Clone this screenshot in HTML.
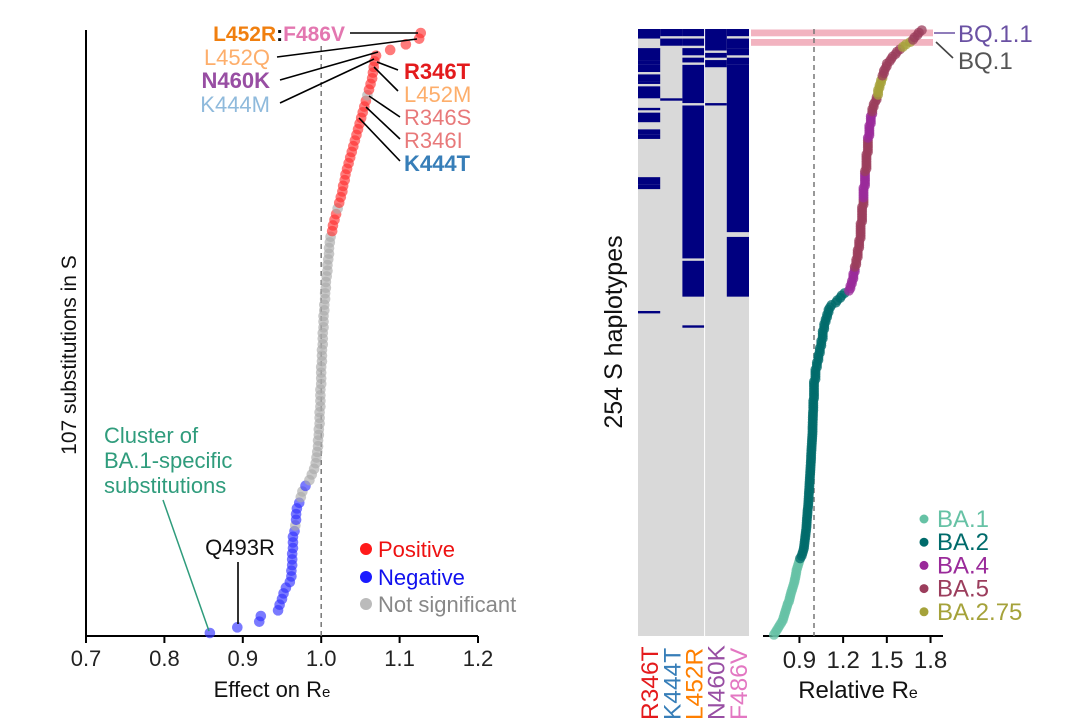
<!DOCTYPE html>
<html><head><meta charset="utf-8"><style>
html,body{margin:0;padding:0;background:#fff;}
svg{display:block;font-family:"Liberation Sans",Arial,sans-serif;}
</style></head><body>
<svg id="fig" width="1068" height="728" viewBox="0 0 1068 728" xmlns="http://www.w3.org/2000/svg">
<g id="left"></g>
<g id="right"></g>
</svg>
<script>
// ---------- LEFT PANEL DATA ----------
const effectValues = [0.858,0.893,0.921,0.923,0.945,0.947,0.950,0.952,0.955,0.960,0.962,0.962,0.963,0.963,0.963,0.964,0.964,0.964,0.966,0.967,0.968,0.968,0.969,0.972,0.974,0.976,0.980,
0.985,0.988,0.991,0.993,0.994,0.995,0.996,0.996,0.997,0.997,0.998,0.998,0.998,0.999,0.999,0.999,0.999,1.000,1.000,1.000,1.000,1.001,1.001,1.001,1.002,1.002,1.002,1.003,1.003,1.003,1.004,1.004,1.005,1.005,1.006,1.006,1.007,1.008,1.008,1.009,1.010,1.010,1.011,1.012,
1.014,1.015,1.017,1.019,1.021,1.023,1.025,1.027,1.028,1.030,1.031,1.033,1.035,1.037,1.039,1.041,1.043,1.045,1.047,1.049,1.051,1.053,1.055,1.057,1.059,1.061,1.063,1.065,1.066,1.067,1.068,1.070,1.088,1.108,1.125,1.127];
// significance: N negative, G not significant, P positive
const effectSignif = "NNNNNNNNNNNNNNNNNNNGNNNNGGN"+"GGGGGGGGGGGGGGGGGGGGGGGGGGGGGGGGGGGGGGGGGGGG"+"PPPPGPPPPPPPPPPPPPPPPPPPGPPPPPPPPPPP";
const leftTicks = [0.7,0.8,0.9,1.0,1.1,1.2];
const leftTickLabels = ["0.7","0.8","0.9","1.0","1.1","1.2"];

// ---------- RIGHT PANEL DATA ----------
const haploValues = [1.74,1.72,1.71,1.69,1.68,1.66,1.63,1.61,1.59,1.57,
1.56,1.54,1.53,1.52,1.50,1.50,1.49,1.48,1.48,1.47,
1.47,1.46,1.46,1.45,1.45,1.44,1.44,1.44,1.43,1.43,
1.42,1.41,1.41,1.40,1.40,1.40,1.39,1.39,1.39,1.39,
1.38,1.38,1.38,1.38,1.38,1.37,1.37,1.37,1.37,1.37,
1.37,1.37,1.36,1.36,1.36,1.36,1.36,1.36,1.36,1.35,
1.35,1.35,1.35,1.35,1.35,1.35,1.34,1.34,1.34,1.34,
1.34,1.34,1.34,1.34,1.33,1.33,1.33,1.33,1.33,1.33,
1.33,1.32,1.32,1.32,1.32,1.32,1.32,1.32,1.31,1.31,
1.31,1.31,1.30,1.30,1.30,1.30,1.29,1.29,1.29,1.28,
1.28,1.28,1.27,1.27,1.27,1.26,1.26,1.25,1.25,1.24,
1.21,1.19,1.18,1.16,1.15,1.12,1.11,1.10,1.10,1.09,
1.09,1.08,1.08,1.07,1.07,1.07,1.06,1.06,1.06,1.06,
1.05,1.05,1.05,1.04,1.04,1.04,1.03,1.03,1.03,1.02,
1.02,1.02,1.01,1.01,1.01,1.01,1.01,1.00,1.00,1.00,
1.00,1.00,1.00,1.00,1.00,0.995,0.995,0.995,0.995,0.995,
0.993,0.993,0.992,0.992,0.991,0.991,0.99,0.99,0.99,0.989,
0.988,0.987,0.986,0.985,0.984,0.983,0.982,0.981,0.98,0.98,
0.979,0.978,0.977,0.976,0.975,0.974,0.973,0.972,0.971,0.97,
0.969,0.968,0.967,0.966,0.965,0.964,0.963,0.962,0.961,0.96,
0.958,0.956,0.955,0.954,0.952,0.951,0.95,0.949,0.948,0.946,
0.944,0.942,0.94,0.938,0.936,0.934,0.932,0.93,0.925,0.92,
0.915,0.905,0.9,0.895,0.89,0.885,0.88,0.878,0.875,0.872,
0.868,0.865,0.86,0.855,0.85,0.845,0.84,0.836,0.832,0.828,
0.82,0.815,0.81,0.805,0.8,0.795,0.79,0.785,0.775,0.765,
0.755,0.745,0.735,0.725];
// lineage ranges [startRow, endRow, lineage]
const lineageRanges = [[0,4,"BA.5"],[5,7,"BA.2.75"],[8,19,"BA.5"],[20,27,"BA.2.75"],[28,34,"BA.5"],[35,45,"BA.4"],[46,59,"BA.5"],[60,70,"BA.4"],[71,99,"BA.5"],[100,109,"BA.4"],[110,221,"BA.2"],[222,253,"BA.1"]];
const lineageNames = ["BA.1","BA.2","BA.4","BA.5","BA.2.75"];
const lineageColors = {"BA.1":"#66c2a5","BA.2":"#006b6b","BA.4":"#9a2a9a","BA.5":"#9b3d5c","BA.2.75":"#a5a23a"};
const mutNames = ["R346T","K444T","L452R","N460K","F486V"];
const mutColors = ["#e41a1c","#377eb8","#ff7f00","#984ea3","#e377c2"];
// presence ranges per mutation column [startRow,endRow]
const mutR346T = [[0,3],[8,12],[13,14],[15,17],[19,21],[22,22],[24,28],[33,33],[35,38],[42,43],[44,45],[62,64],[65,66],[118,118]];
const mutK444T = [[0,2],[4,6],[29,29]];
const mutL452R = [[0,2],[4,6],[8,10],[12,13],[15,30],[32,95],[97,111],[124,124]];
const mutN460K = [[0,8],[10,11],[13,15],[31,31]];
const mutF486V = [[0,2],[4,7],[8,10],[12,14],[15,84],[87,111]];
const rightTicks = [0.9,1.2,1.5,1.8];
const rightTickLabels = ["0.9","1.2","1.5","1.8"];

const NS="http://www.w3.org/2000/svg";
function mk(parent,tag,attrs,text){const e=document.createElementNS(NS,tag);for(const k in attrs)e.setAttribute(k,attrs[k]);if(text!==undefined)e.textContent=text;parent.appendChild(e);return e;}

// ---------- LEFT PANEL ----------
const L=document.getElementById('left');
const lx=v=>86+(v-0.7)/0.5*392;
const ly=i=>633-i*(600/106);
let e;
e=mk(L,'line',{x1:86,y1:30,x2:86,y2:636,stroke:'#000','stroke-width':2});

e=mk(L,'line',{x1:86,y1:636,x2:478,y2:636,stroke:'#000','stroke-width':2});

e=mk(L,'line',{x1:lx(1.0),y1:46,x2:lx(1.0),y2:636,stroke:'#777','stroke-width':1.5,'stroke-dasharray':'5,4'});

leftTicks.forEach((t,k)=>{
  e=mk(L,'line',{x1:lx(t),y1:636,x2:lx(t),y2:643,stroke:'#000','stroke-width':2});
  
  e=mk(L,'text',{x:lx(t),y:666,'text-anchor':'middle','font-size':22,fill:'#222'},leftTickLabels[k]);
  
});
e=mk(L,'text',{x:272,y:697,'text-anchor':'middle','font-size':22,fill:'#111'});
e.innerHTML='Effect on R<tspan font-size="15">e</tspan>';

e=mk(L,'text',{x:0,y:0,transform:'translate(76,355) rotate(-90)','text-anchor':'middle','font-size':21,fill:'#111'},'107 substitutions in S');

const sigColor={N:'#3333ff',G:'#aaaaaa',P:'#ff3333'};
effectValues.forEach((v,i)=>{
  e=mk(L,'circle',{cx:lx(v),cy:ly(i),r:5.3,fill:sigColor[effectSignif[i]],'fill-opacity':0.65});
  
});
// annotations
const annL=[
 [277,57,417,39],[280,80,378,52],[280,103,374,59],[350,33,418,33],
 [377,62,398,70],[374,67,398,91],[369,96,400,117],[366,107,400,139],[359,118,400,161]];
annL.forEach(a=>{e=mk(L,'line',{x1:a[0],y1:a[1],x2:a[2],y2:a[3],stroke:'#000','stroke-width':1.6});
 });
e=mk(L,'text',{x:345,y:41,'text-anchor':'end','font-size':21});
e.innerHTML='<tspan fill="#f07f0f" font-weight="bold">L452R</tspan><tspan fill="#111" font-weight="bold">:</tspan><tspan fill="#e377b0" font-weight="bold">F486V</tspan>';

const lblL=[["L452Q",65,'#fdae6b','normal'],["N460K",88,'#984ea3','bold'],["K444M",112,'#8fbadc','normal']];
lblL.forEach(a=>{e=mk(L,'text',{x:270,y:a[1],'text-anchor':'end','font-size':22,fill:a[2],'font-weight':a[3]},a[0]);
 });
const lblR=[["R346T",79,'#e31a1c','bold'],["L452M",102,'#fdae6b','normal'],["R346S",125,'#e8797a','normal'],["R346I",148,'#e8797a','normal'],["K444T",171,'#377eb8','bold']];
lblR.forEach(a=>{e=mk(L,'text',{x:404,y:a[1],'font-size':22,fill:a[2],'font-weight':a[3]},a[0]);
 });
["Cluster of","BA.1-specific","substitutions"].forEach((t,k)=>{
 e=mk(L,'text',{x:104,y:443+k*25,'font-size':22,fill:'#2f9c7c'},t);
 });
e=mk(L,'line',{x1:163,y1:500,x2:209,y2:631,stroke:'#2f9c7c','stroke-width':1.5});

e=mk(L,'text',{x:240,y:555,'text-anchor':'middle','font-size':22,fill:'#111'},'Q493R');

e=mk(L,'line',{x1:238,y1:562,x2:238,y2:624,stroke:'#000','stroke-width':1.6});

[["Positive",'#ff1a1a','#ee1111',549],["Negative",'#1a1aff','#1111ee',577],["Not significant",'#bbbbbb','#888888',604]].forEach(a=>{
 e=mk(L,'circle',{cx:366,cy:a[3],r:6,fill:a[1]});
 
 e=mk(L,'text',{x:378,y:a[3]+8,'font-size':22,fill:a[2]},a[0]);
 
});

// ---------- RIGHT PANEL ----------
const R=document.getElementById('right');
const hx0=638,colW=22.2,rowTop=29,rowH=607/254;
const ry=r=>rowTop+(r+0.5)*rowH;
const rx=v=>814+(v-1.0)/0.3*43.7;
e=mk(R,'rect',{x:hx0,y:rowTop,width:colW*5,height:607,fill:'#d9d9d9'});

[mutR346T,mutK444T,mutL452R,mutN460K,mutF486V].forEach((ranges,c)=>{
 ranges.forEach(rg=>{
  e=mk(R,'rect',{x:hx0+c*colW,y:rowTop+rg[0]*rowH,width:colW,height:(rg[1]-rg[0]+1)*rowH,fill:'#000080'});
  
  
 });
});
e=mk(R,'line',{x1:hx0+3*colW,y1:rowTop,x2:hx0+3*colW,y2:636,stroke:'#fff','stroke-width':1});

mutNames.forEach((m,c)=>{
 e=mk(R,'text',{x:0,y:0,transform:`translate(${hx0+c*colW+colW/2+9},720) rotate(-90)`,'font-size':24.5,fill:mutColors[c]},m);
 
});
e=mk(R,'text',{x:0,y:0,transform:'translate(622,332) rotate(-90)','text-anchor':'middle','font-size':25,fill:'#111'},'254 S haplotypes');

// highlight bars
[0,1].forEach(k=>{
 e=mk(R,'rect',{x:751,y:rowTop+k*9.5+0.5,width:182,height:6.8,fill:'#f2b3c0'});
 
});
e=mk(R,'line',{x1:763,y1:636,x2:943,y2:636,stroke:'#000','stroke-width':2});

e=mk(R,'line',{x1:rx(1.0),y1:29,x2:rx(1.0),y2:636,stroke:'#777','stroke-width':1.5,'stroke-dasharray':'5,4'});

rightTicks.forEach((t,k)=>{
 e=mk(R,'line',{x1:rx(t),y1:636,x2:rx(t),y2:643,stroke:'#000','stroke-width':2});
 
 e=mk(R,'text',{x:rx(t),y:668,'text-anchor':'middle','font-size':24,fill:'#222'},rightTickLabels[k]);
 
});
e=mk(R,'text',{x:858,y:698,'text-anchor':'middle','font-size':24,fill:'#111'});
e.innerHTML='Relative R<tspan font-size="16">e</tspan>';

function lineageOf(r){for(const g of lineageRanges){if(r>=g[0]&&r<=g[1])return g[2];}return "BA.5";}
for(let r=haploValues.length-1;r>=0;r--){
 e=mk(R,'circle',{cx:rx(haploValues[r]),cy:ry(r),r:5,fill:lineageColors[lineageOf(r)],'fill-opacity':0.75});
 
}
e=mk(R,'line',{x1:934,y1:33,x2:955,y2:33,stroke:'#6a51a3','stroke-width':1.6});

e=mk(R,'text',{x:958,y:42,'font-size':24,fill:'#6a51a3'},'BQ.1.1');

e=mk(R,'line',{x1:936,y1:42,x2:953,y2:58,stroke:'#444','stroke-width':1.6});

e=mk(R,'text',{x:958,y:69,'font-size':24,fill:'#555'},'BQ.1');

lineageNames.forEach((n,k)=>{
 const yy=519+k*23.2;
 e=mk(R,'circle',{cx:924,cy:yy,r:4.5,fill:lineageColors[n]});
 
 e=mk(R,'text',{x:937,y:yy+8,'font-size':24,fill:lineageColors[n]},n);
 
});
</script>
</body></html>
